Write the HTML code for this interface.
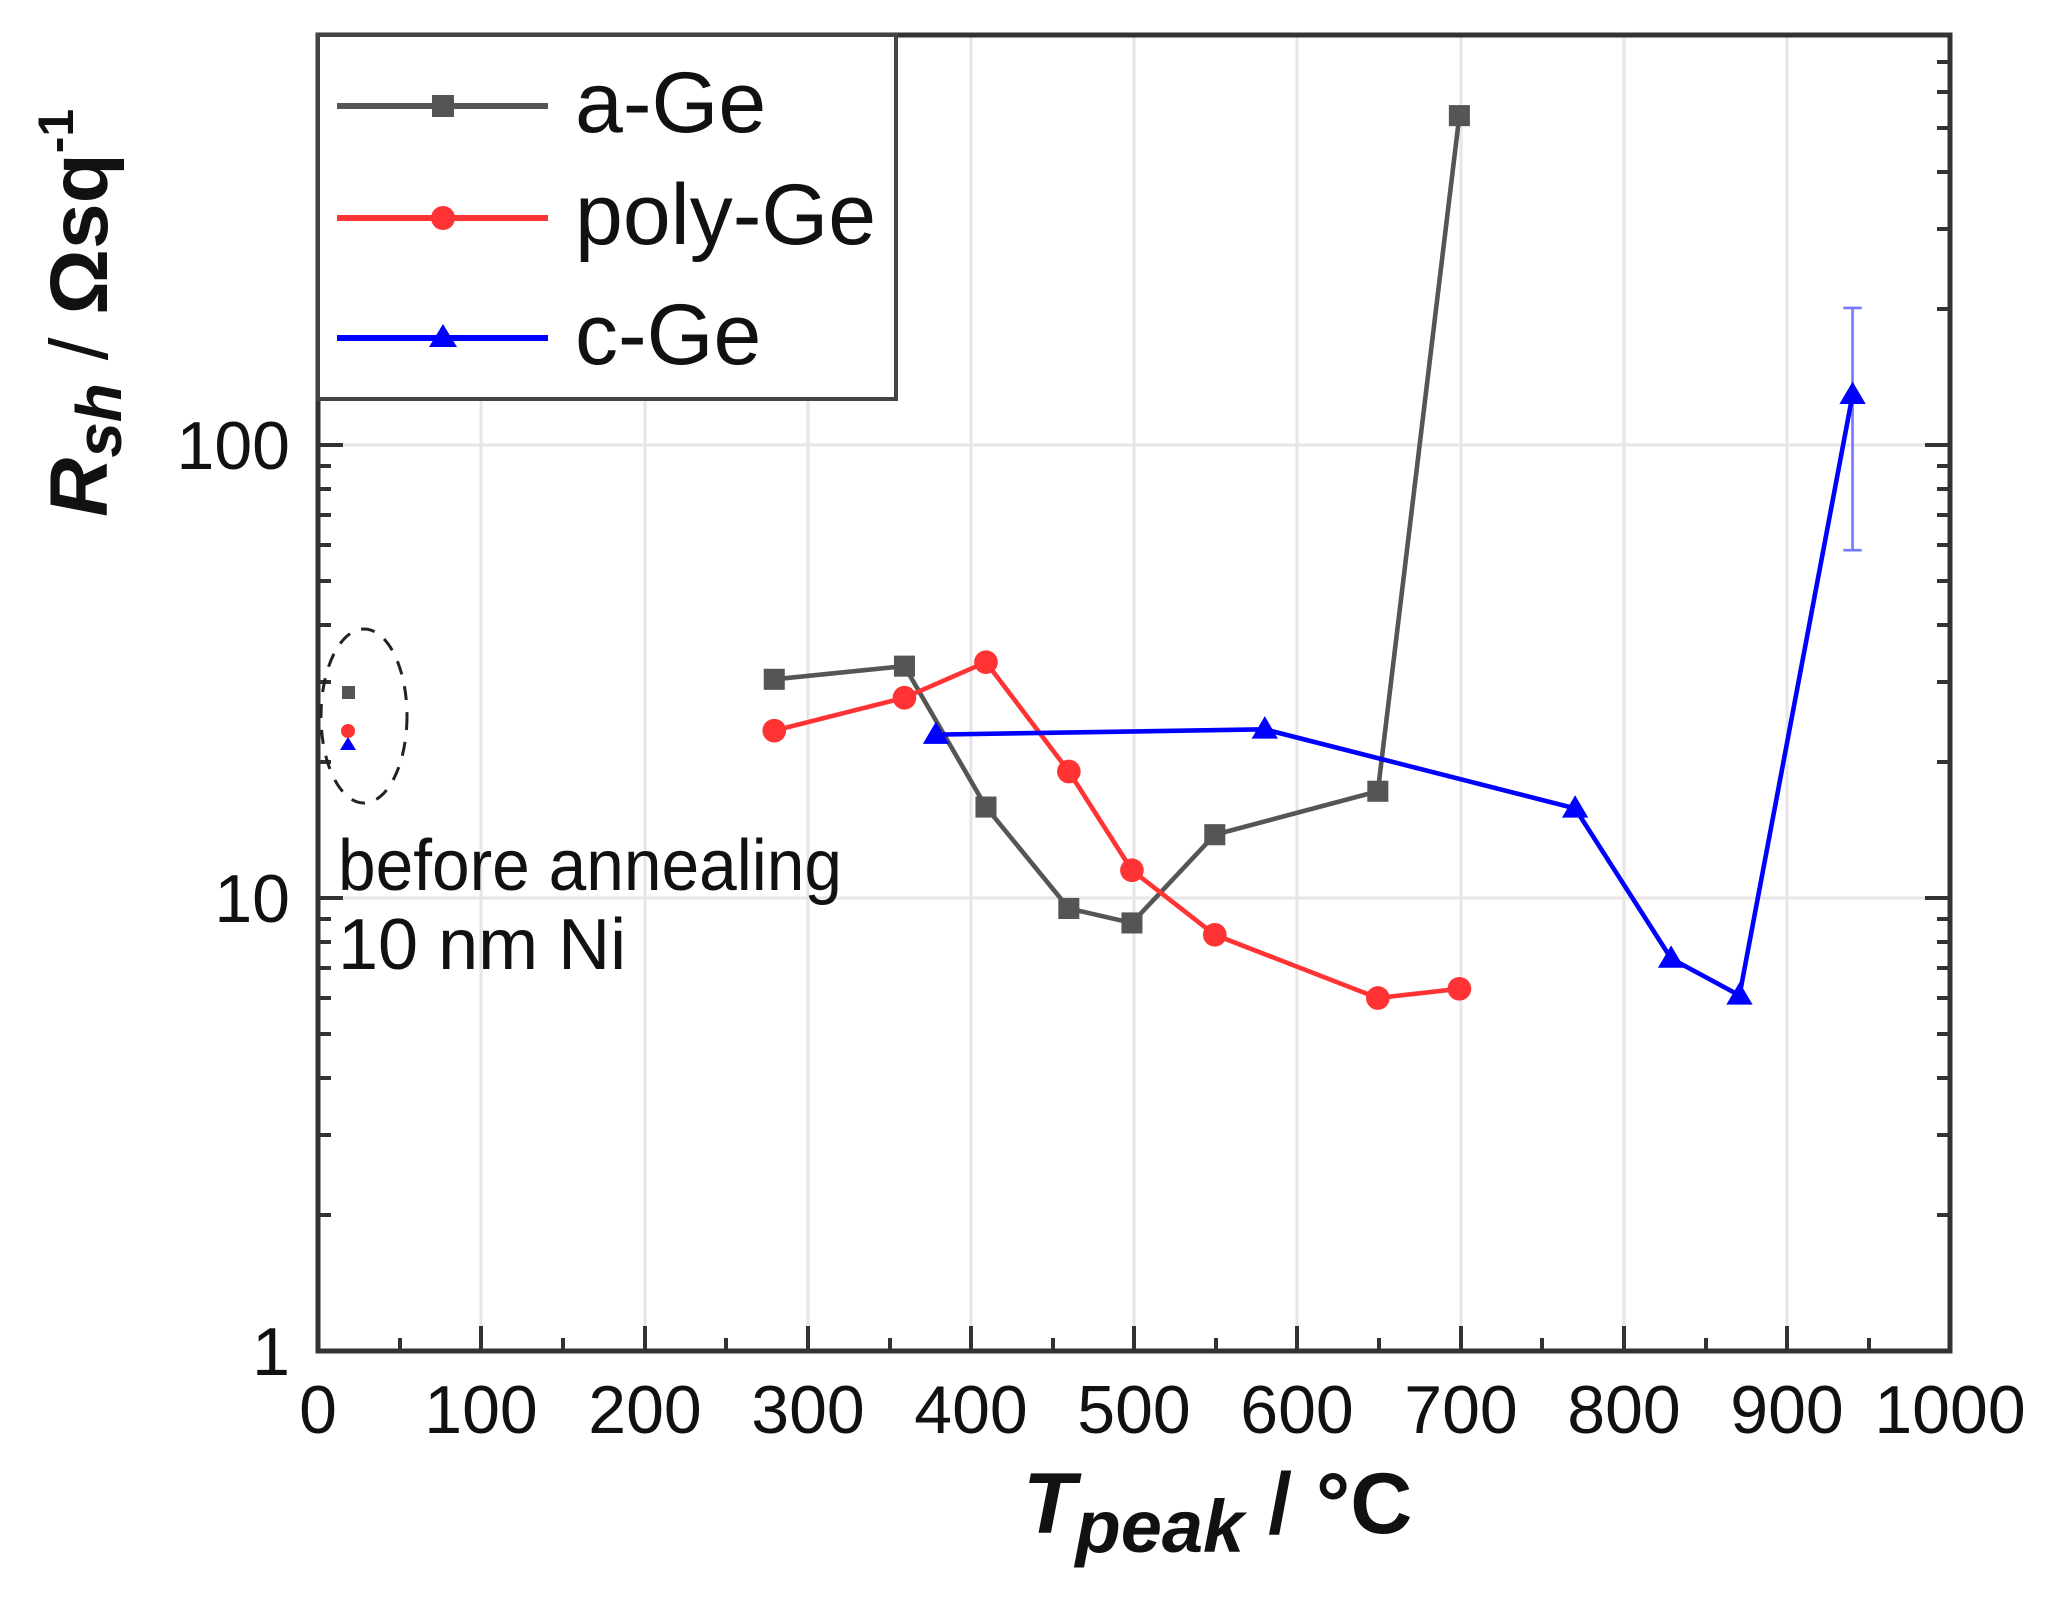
<!DOCTYPE html>
<html><head><meta charset="utf-8"><style>
html,body{margin:0;padding:0;background:#fff;}
svg{display:block;font-family:"Liberation Sans",Arial,sans-serif;}
</style></head><body>
<svg width="2056" height="1599" viewBox="0 0 2056 1599" xmlns="http://www.w3.org/2000/svg">
<rect width="2056" height="1599" fill="#fff"/>
<!-- grid -->
<g stroke="#e6e6e6" stroke-width="3">
<line x1="481" y1="37" x2="481" y2="1349"/><line x1="645" y1="37" x2="645" y2="1349"/>
<line x1="808" y1="37" x2="808" y2="1349"/><line x1="971" y1="37" x2="971" y2="1349"/>
<line x1="1134" y1="37" x2="1134" y2="1349"/><line x1="1297" y1="37" x2="1297" y2="1349"/>
<line x1="1461" y1="37" x2="1461" y2="1349"/><line x1="1624" y1="37" x2="1624" y2="1349"/>
<line x1="1787" y1="37" x2="1787" y2="1349"/>
<line x1="320" y1="445" x2="1948" y2="445"/><line x1="320" y1="898" x2="1948" y2="898"/>
</g>
<!-- ticks -->
<g stroke="#333" stroke-width="4">
<path d="M481 1351v-25M645 1351v-25M808 1351v-25M971 1351v-25M1134 1351v-25M1297 1351v-25M1461 1351v-25M1624 1351v-25M1787 1351v-25"/>
<path d="M400 1351v-13M563 1351v-13M726 1351v-13M890 1351v-13M1053 1351v-13M1216 1351v-13M1379 1351v-13M1542 1351v-13M1706 1351v-13M1869 1351v-13"/>
<path d="M318 445h25M318 898h25M1950 445h-25M1950 898h-25"/>
<path d="M318 1215h13M318 1135h13M318 1078h13M318 1034h13M318 998h13M318 968h13M318 942h13M318 919h13
M318 762h13M318 682h13M318 625h13M318 581h13M318 545h13M318 515h13M318 489h13M318 466h13
M318 309h13M318 229h13M318 172h13M318 128h13M318 92h13M318 62h13
M1950 1215h-13M1950 1135h-13M1950 1078h-13M1950 1034h-13M1950 998h-13M1950 968h-13M1950 942h-13M1950 919h-13
M1950 762h-13M1950 682h-13M1950 625h-13M1950 581h-13M1950 545h-13M1950 515h-13M1950 489h-13M1950 466h-13
M1950 309h-13M1950 229h-13M1950 172h-13M1950 128h-13M1950 92h-13M1950 62h-13"/>
</g>
<!-- frame -->
<rect x="318" y="35" width="1632" height="1316" fill="none" stroke="#333" stroke-width="5"/>
<!-- legend -->
<rect x="318" y="35" width="578" height="364" fill="#fff" stroke="#444" stroke-width="4"/>
<line x1="337" y1="106" x2="548" y2="106" stroke="#555" stroke-width="6"/>
<rect x="432" y="95" width="22" height="22" fill="#555"/>
<text x="575" y="132" font-size="86" fill="#111">a-Ge</text>
<line x1="337" y1="218" x2="548" y2="218" stroke="#ff3333" stroke-width="6"/>
<circle cx="443" cy="218" r="12" fill="#ff3333"/>
<text x="575" y="244" font-size="86" fill="#111">poly-Ge</text>
<line x1="337" y1="338" x2="548" y2="338" stroke="#0000ff" stroke-width="6"/>
<polygon points="443,324 457,347 429,347" fill="#0000ff"/>
<text x="575" y="364" font-size="86" fill="#111">c-Ge</text>
<!-- before annealing -->
<ellipse cx="364" cy="716" rx="43" ry="87" fill="none" stroke="#222" stroke-width="3" stroke-dasharray="14,12"/>
<rect x="342" y="686" width="13" height="13" fill="#555"/>
<circle cx="348" cy="731" r="7" fill="#ff3333"/>
<polygon points="348,737 356,750 340,750" fill="#0000ff"/>
<text x="338" y="890" font-size="72" fill="#111" textLength="504" lengthAdjust="spacingAndGlyphs">before annealing</text>
<text x="338" y="969" font-size="72" fill="#111">10 nm Ni</text>
<!-- data -->
<g transform="matrix(1.315 0 0 1.317 -2.9 -2.9)">
<polyline fill="none" stroke="#555" stroke-width="3.5" points="591,518 690,508 752,615 815,692 863,703 926,636 1050,603 1112,90"/>
<g fill="#555">
<rect x="583" y="510" width="16" height="16"/><rect x="682" y="500" width="16" height="16"/>
<rect x="744" y="607" width="16" height="16"/><rect x="807" y="684" width="16" height="16"/>
<rect x="855" y="695" width="16" height="16"/><rect x="918" y="628" width="16" height="16"/>
<rect x="1042" y="595" width="16" height="16"/><rect x="1104" y="82" width="16" height="16"/>
</g>
<polyline fill="none" stroke="#ff3333" stroke-width="3.5" points="591,557 690,532 752,505 815,588 863,663 926,712 1050,760 1112,753"/>
<g fill="#ff3333">
<circle cx="591" cy="557" r="9"/><circle cx="690" cy="532" r="9"/><circle cx="752" cy="505" r="9"/>
<circle cx="815" cy="588" r="9"/><circle cx="863" cy="663" r="9"/><circle cx="926" cy="712" r="9"/>
<circle cx="1050" cy="760" r="9"/><circle cx="1112" cy="753" r="9"/>
</g>
<path d="M1411 236V420M1404 236h14M1404 420h14" stroke="#7777ff" stroke-width="2" fill="none"/>
<polyline fill="none" stroke="#0000ff" stroke-width="3.5" points="714,560 964,556 1200,616 1273,730 1325,758 1411,302"/>
<g fill="#0000ff">
<polygon points="714,550 724,567 704,567"/><polygon points="964,546 974,563 954,563"/>
<polygon points="1200,606 1210,623 1190,623"/><polygon points="1273,720 1283,737 1263,737"/>
<polygon points="1325,748 1335,765 1315,765"/><polygon points="1411,292 1421,309 1401,309"/>
</g>
</g>
<!-- tick labels -->
<g font-size="68" fill="#111" text-anchor="middle">
<text x="318" y="1433">0</text><text x="481" y="1433">100</text><text x="645" y="1433">200</text>
<text x="808" y="1433">300</text><text x="971" y="1433">400</text><text x="1134" y="1433">500</text>
<text x="1297" y="1433">600</text><text x="1461" y="1433">700</text><text x="1624" y="1433">800</text>
<text x="1787" y="1433">900</text><text x="1950" y="1433">1000</text>
</g>
<g font-size="68" fill="#111" text-anchor="end">
<text x="290" y="469">100</text><text x="290" y="922">10</text><text x="290" y="1375">1</text>
</g>
<!-- axis titles -->
<text x="1023" y="1533" font-size="86" font-weight="bold" fill="#111"><tspan font-style="italic">T</tspan><tspan font-style="italic" font-size="74" dy="19">peak</tspan><tspan dy="-19"> / °C</tspan></text>
<text transform="translate(107,517) rotate(-90)" font-size="82" font-weight="bold" fill="#111"><tspan font-style="italic">R</tspan><tspan font-style="italic" font-size="64" dy="14">sh</tspan><tspan dy="-14" font-weight="normal"> / </tspan><tspan>Ωsq</tspan><tspan font-size="50" dy="-34">-1</tspan></text>
</svg>
</body></html>
